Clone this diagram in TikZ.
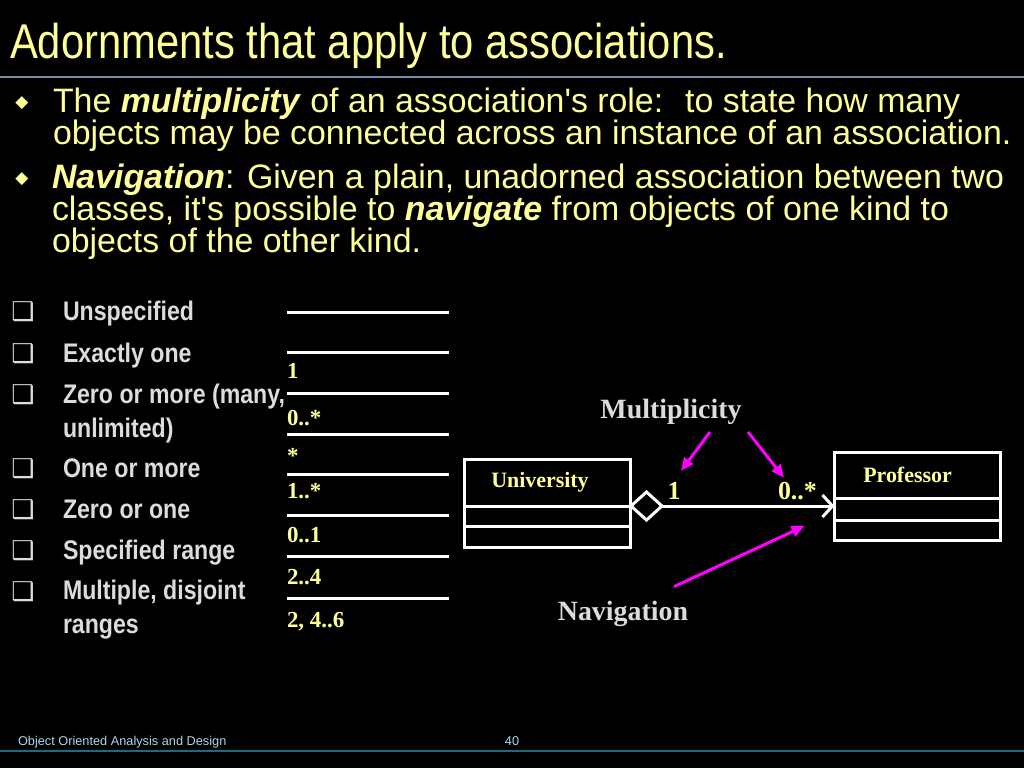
\documentclass[tikz,border=0pt]{standalone}
\usepackage{fontspec}
\setmainfont{Liberation Serif}
\setsansfont{Liberation Sans}
\newfontfamily\titlefont[FakeStretch=0.855]{Liberation Sans}
\newfontfamily\listfont[FakeStretch=0.86]{Liberation Sans}
\newfontfamily\symfont{DejaVu Sans}
\newcommand\tightlines{\lineskiplimit-40pt\relax}
\usetikzlibrary{arrows.meta}
\usetikzlibrary{shapes.geometric}
\definecolor{slideyellow}{HTML}{FFFF99}
\definecolor{slidegray}{HTML}{DCDCDC}
\definecolor{slidemagenta}{HTML}{FF00FF}
\definecolor{titlerulecol}{HTML}{6F93B3}
\definecolor{footrulecol}{HTML}{1B6B7B}
\definecolor{footcol}{HTML}{A6D8EC}

\begin{document}
\begin{tikzpicture}
[x=1bp,y=-1bp,%
  every node/.style={inner sep=0pt,outer sep=0pt},%
  titletext/.style={anchor=base west,text=slideyellow,font=\titlefont\fontsize{49}{49}\selectfont},%
  bodytext/.style={anchor=base west,text=slideyellow,align=left,font={\sffamily\fontsize{34}{32}\selectfont\tightlines}},%
  bulletmark/.style={anchor=base,text=slideyellow,font=\symfont\fontsize{17}{17}\selectfont},%
  chk/.style={anchor=base,text=slidegray,font=\symfont\fontsize{26}{26}\selectfont},%
  listtext/.style={anchor=base west,text=slidegray,align=left,font={\listfont\bfseries\fontsize{27}{34}\selectfont\tightlines}},%
  multlabel/.style={anchor=base west,text=slideyellow,font=\bfseries\fontsize{23}{23}\selectfont},%
  multline/.style={white,line width=3bp},%
  classbox/.style={draw=white,line width=3bp,minimum width=166bp},%
  classname/.style={text=slideyellow,font=\bfseries\fontsize{22}{22}\selectfont},%
  aggr/.style={shape=diamond,draw=white,fill=black,line width=3bp,minimum width=31bp,minimum height=28bp},%
  assoc/.style={white,line width=3bp,-{Straight Barb[length=10bp,width=22bp]}},%
  rolelabel/.style={anchor=base,text=slideyellow,font=\bfseries\fontsize{26}{26}\selectfont},%
  notetext/.style={anchor=base,text=slidegray,font=\bfseries\fontsize{28}{28}\selectfont},%
  pointer/.style={slidemagenta,line width=3bp,-{Triangle[length=13bp,width=11bp]}},%
  foottext/.style={anchor=base west,text=footcol,font=\sffamily\fontsize{12.8}{12.8}\selectfont}]
\fill[black] (0,0) rectangle (1024,768);
\useasboundingbox (0,0) rectangle (1024,768);
% title
\node[titletext] (title) at (10,59) {Adornments that apply to associations.};
\draw[titlerulecol,line width=2bp] (0,77) -- (1024,77);
% bullets (base of a two-line node = last line)
\node[bulletmark] (b1) at (22,107) {◆};
\node[bodytext] (mult) at (53,144) {The \textbf{\textit{multiplicity}} of an association\textquotesingle s role:~ to state how many\\objects may be connected across an instance of an association.};
\node[bulletmark] (b2) at (22,183) {◆};
\node[bodytext] (nav) at (52,252) {\textbf{\textit{Navigation}}: Given a plain, unadorned association between two\\classes, it\textquotesingle s possible to \textbf{\textit{navigate}} from objects of one kind to\\objects of the other kind.};
% list of multiplicities
\node[chk] (c1) at (23,320) {❑};
\node[listtext] (unspec) at (63,320) {Unspecified};
\node[chk] (c2) at (23,362) {❑};
\node[listtext] (exone) at (63,362) {Exactly one};
\node[chk] (c3) at (23,403) {❑};
\node[listtext] (zmore) at (63,437) {Zero or more (many,\\unlimited)};
\node[chk] (c4) at (23,477) {❑};
\node[listtext] (omore) at (63,477) {One or more};
\node[chk] (c5) at (23,518) {❑};
\node[listtext] (zone) at (63,518) {Zero or one};
\node[chk] (c6) at (23,559) {❑};
\node[listtext] (range) at (63,559) {Specified range};
\node[chk] (c7) at (23,600) {❑};
\node[listtext] (disj) at (63,633) {Multiple, disjoint\\ranges};
\draw[multline] (287,312) -- (449,312);
\draw[multline] (287,352) -- (449,352);
\draw[multline] (287,393) -- (449,393);
\draw[multline] (287,434) -- (449,434);
\draw[multline] (287,474) -- (449,474);
\draw[multline] (287,515) -- (449,515);
\draw[multline] (287,556) -- (449,556);
\draw[multline] (287,598) -- (449,598);
\node[multlabel] (m1) at (287,378) {1};
\node[multlabel] (m2) at (287,425) {0..*};
\node[multlabel] (m3) at (287,463) {*};
\node[multlabel] (m4) at (287,498) {1..*};
\node[multlabel] (m5) at (287,542) {0..1};
\node[multlabel] (m6) at (287,584) {2..4};
\node[multlabel] (m7) at (287,627) {2, 4..6};
% classes
\node[classbox,minimum height=47bp,
  label={[classname,xshift=-7bp]center:University}] (univ) at (547,482.5) {};
\node[classbox,minimum height=20bp,anchor=north] (univa) at (univ.south) {};
\node[classbox,minimum height=21bp,anchor=north] (univo) at (univa.south) {};
\node[classbox,minimum height=46bp,
  label={[classname,xshift=-10bp]center:Professor}] (prof) at (917.5,475) {};
\node[classbox,minimum height=22bp,anchor=north] (profa) at (prof.south) {};
\node[classbox,minimum height=20bp,anchor=north] (profo) at (profa.south) {};
\node[aggr] (agg) at (646.5,506) {};
\draw[assoc] (agg.east) -- (agg.east -| profa.west);
\node[rolelabel] (one) at (674,499) {1};
\node[rolelabel,anchor=base west] (many) at (778,499) {0..*};
% notes
\node[notetext] (multlbl) at (671,418) {Multiplicity};
\node[notetext] (navlbl) at (623,620) {Navigation};
\draw[pointer] ([xshift=39bp,yshift=-8bp]multlbl.south) -- ([xshift=7bp,yshift=11bp]one.north);
\draw[pointer] ([xshift=77bp,yshift=-8bp]multlbl.south) -- ([xshift=6bp,yshift=4bp]many.north west);
\draw[pointer] ([xshift=51bp,yshift=14bp]navlbl.north) -- ([xshift=-30bp,yshift=-17bp]profa.west);
% footer
\node[foottext] (foot) at (18,745) {Object Oriented Analysis and Design};
\node[foottext,anchor=base] (pageno) at (512,745) {40};
\draw[footrulecol,line width=2bp] (0,751) -- (1024,751);
\end{tikzpicture}
\end{document}
